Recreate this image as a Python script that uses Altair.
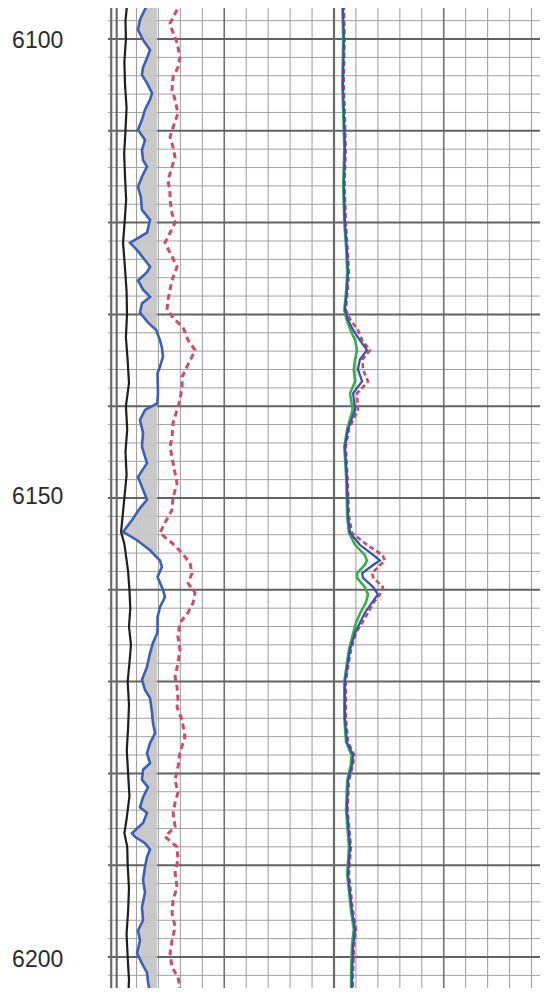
import altair as alt
import numpy as np
import pandas as pd

# ---------------- data (x values in chart-grid divisions: track 1 = 0..10, track 2 = 10..20) ----------------
gr_depth = [6096.3, 6097.9, 6099.0, 6100.1, 6101.2, 6102.1, 6103.1, 6103.9, 6104.8, 6105.9, 6106.6, 6107.7,
            6108.8, 6109.9, 6110.2, 6111.0, 6112.1, 6113.2, 6113.9, 6115.0, 6116.1, 6117.2, 6118.6, 6119.7,
            6121.1, 6122.2, 6123.0, 6124.1, 6124.8, 6125.4, 6126.3, 6127.3, 6128.1, 6128.8, 6129.8, 6130.9,
            6131.7, 6132.8, 6133.6, 6134.6, 6135.7, 6136.4, 6137.5, 6138.6, 6139.7, 6140.4, 6141.5, 6142.9,
            6144.4, 6146.2, 6147.7, 6149.1, 6150.2, 6151.1, 6152.4, 6153.7, 6154.6, 6155.7, 6156.8, 6157.5,
            6158.6, 6160.0, 6160.8, 6161.9, 6163.0, 6164.1, 6164.7, 6165.8, 6166.9, 6168.4, 6169.8, 6170.9,
            6171.8, 6173.4, 6174.5, 6175.6, 6176.7, 6177.8, 6178.9, 6179.6, 6180.7, 6181.5, 6182.6, 6183.7,
            6184.3, 6185.4, 6186.5, 6186.9, 6187.6, 6188.3, 6189.1, 6190.2, 6191.6, 6193.0, 6194.6, 6196.0,
            6197.1, 6198.2, 6199.6, 6200.7, 6201.7, 6202.8, 6203.9, 6204.7]
gr_value = [1.48, 1.16, 1.07, 1.30, 1.62, 1.48, 1.30, 1.25, 1.48, 1.71, 1.62, 1.39,
            1.25, 1.07, 1.16, 1.39, 1.25, 1.30, 1.48, 1.25, 1.07, 1.20, 1.25, 1.62,
            1.48, 0.71, 1.03, 1.39, 1.62, 1.48, 1.07, 1.30, 1.62, 1.25, 1.16, 1.53,
            1.90, 2.07, 2.16, 2.21, 2.07, 1.96, 1.97, 1.98, 1.95, 1.39, 1.16, 1.30,
            1.25, 1.48, 1.07, 1.30, 1.48, 1.16, 0.80, 0.39, 1.03, 1.62, 2.07, 2.16,
            1.96, 2.21, 2.30, 2.07, 1.96, 1.96, 1.95, 1.75, 1.62, 1.48, 1.25, 1.39,
            1.62, 1.71, 1.75, 1.85, 1.62, 1.48, 1.62, 1.30, 1.25, 1.53, 1.30, 1.16,
            1.48, 1.30, 0.80, 0.93, 1.39, 1.62, 1.48, 1.39, 1.30, 1.39, 1.25, 1.30,
            1.07, 1.16, 1.03, 1.25, 1.48, 1.53, 1.62, 1.65]
shale_base = 1.94

res_depth = [6096.8, 6098.3, 6099.0, 6100.4, 6102.0, 6103.1, 6104.1, 6105.6, 6106.6, 6108.1, 6109.6, 6110.7,
             6111.8, 6112.9, 6113.9, 6115.4, 6116.8, 6117.5, 6119.0, 6120.0, 6121.1, 6122.2, 6123.7, 6124.8,
             6126.3, 6127.3, 6128.4, 6129.5, 6130.6, 6131.4, 6132.8, 6133.9, 6134.6, 6135.7, 6136.8, 6137.9,
             6139.3, 6140.4, 6141.8, 6143.4, 6144.4, 6146.2, 6148.4, 6149.9, 6151.3, 6152.7, 6153.8, 6154.9,
             6156.0, 6157.1, 6158.2, 6159.3, 6160.3, 6161.4, 6162.5, 6163.6, 6165.1, 6166.5, 6168.0, 6169.5,
             6170.6, 6171.8, 6172.8, 6174.2, 6176.0, 6177.8, 6179.3, 6180.7, 6182.1, 6183.2, 6184.3, 6185.8,
             6186.9, 6188.0, 6189.4, 6190.8, 6192.4, 6193.8, 6195.2, 6196.7, 6198.2, 6199.6, 6201.1, 6202.2,
             6203.3, 6204.5]
res_value = [2.85, 2.53, 2.62, 2.85, 2.98, 2.89, 2.67, 2.62, 2.76, 2.89, 2.67, 2.53,
             2.67, 2.76, 2.62, 2.44, 2.53, 2.53, 2.62, 2.76, 2.53, 2.30, 2.62, 2.85,
             2.62, 2.53, 2.44, 2.39, 2.76, 3.12, 3.35, 3.67, 3.53, 3.30, 3.08, 3.08,
             2.98, 2.85, 2.67, 2.62, 2.53, 2.67, 2.85, 2.67, 2.62, 2.30, 2.07, 2.62,
             3.08, 3.44, 3.53, 3.35, 3.67, 3.58, 3.35, 2.98, 2.89, 2.98, 2.89, 2.76,
             2.85, 2.89, 2.85, 3.08, 3.21, 2.98, 2.89, 2.76, 2.89, 2.76, 2.67, 2.76,
             2.30, 2.85, 2.89, 2.76, 2.85, 2.67, 2.62, 2.76, 2.62, 2.53, 2.62, 2.89,
             2.98, 2.85]

cal_depth = [6096.3, 6098, 6100, 6102.5, 6105, 6107.5, 6110, 6112.5, 6115, 6117.5, 6120, 6122.2, 6125,
             6127.5, 6130, 6132.5, 6135, 6137.5, 6140, 6142.5, 6145, 6147.5, 6150, 6153.7, 6155, 6158,
             6160, 6162, 6164, 6166, 6168, 6170, 6172.5, 6175, 6177.5, 6180, 6182.5, 6185, 6186.5,
             6188, 6190, 6192.5, 6195, 6197.5, 6200, 6202.5, 6204.7]
cal_value = [0.57, 0.50, 0.52, 0.45, 0.48, 0.55, 0.50, 0.44, 0.48, 0.53, 0.46, 0.39, 0.48,
             0.55, 0.57, 0.52, 0.60, 0.66, 0.52, 0.58, 0.50, 0.55, 0.45, 0.30, 0.45, 0.62,
             0.68, 0.72, 0.66, 0.75, 0.68, 0.60, 0.66, 0.62, 0.56, 0.62, 0.68, 0.55, 0.45,
             0.58, 0.60, 0.66, 0.62, 0.55, 0.60, 0.66, 0.62]

t2_depth = [6096.3, 6100, 6105, 6108, 6112, 6116, 6120, 6123, 6125.4, 6127.3, 6129.5, 6130.6, 6131.7,
            6132.8, 6133.9, 6134.9, 6136.0, 6137.3, 6138.6, 6140.4, 6142.5, 6144.4, 6148, 6152, 6153.8,
            6155.1, 6156.2, 6156.8, 6157.3, 6158.2, 6158.7, 6159.7, 6160.5, 6161.4, 6162.5, 6163.6, 6164.7,
            6166.5, 6167.8, 6170, 6174, 6176.6, 6178, 6179.1, 6180.8, 6184, 6188, 6191, 6195, 6197,
            6198.8, 6202, 6204.7]
t2_blue = [10.41, 10.45, 10.41, 10.45, 10.50, 10.45, 10.50, 10.59, 10.64, 10.59, 10.50, 10.64, 10.87,
           11.18, 11.50, 11.18, 11.09, 11.28, 10.87, 10.96, 10.64, 10.50, 10.59, 10.64, 10.73,
           11.18, 11.78, 12.09, 11.78, 11.28, 11.32, 11.78, 12.00, 11.73, 11.41, 11.18, 10.96,
           10.73, 10.64, 10.50, 10.50, 10.59, 10.87, 10.82, 10.64, 10.59, 10.73, 10.64, 10.82, 10.96,
           10.87, 10.82, 10.82]
t2_red = [10.45, 10.48, 10.44, 10.49, 10.53, 10.48, 10.54, 10.62, 10.68, 10.62, 10.54, 10.75, 11.09,
          11.28, 11.64, 11.30, 11.32, 11.55, 11.05, 11.09, 10.68, 10.54, 10.62, 10.68, 10.82,
          11.50, 12.20, 12.32, 12.10, 11.73, 11.80, 12.23, 12.10, 11.80, 11.55, 11.28, 11.00,
          10.78, 10.68, 10.54, 10.54, 10.64, 10.92, 10.86, 10.68, 10.62, 10.77, 10.68, 10.86, 11.00,
          10.91, 10.86, 10.86]
t2_green = [10.38, 10.42, 10.38, 10.42, 10.47, 10.42, 10.47, 10.56, 10.60, 10.56, 10.47, 10.58, 10.75,
            10.96, 11.05, 10.96, 10.90, 10.96, 10.73, 10.85, 10.60, 10.47, 10.56, 10.60, 10.68,
            10.96, 11.40, 11.50, 11.40, 11.05, 11.05, 11.40, 11.55, 11.45, 11.20, 11.00, 10.88,
            10.68, 10.60, 10.47, 10.47, 10.55, 10.80, 10.76, 10.60, 10.55, 10.68, 10.60, 10.78, 10.90,
            10.82, 10.78, 10.78]

depth_labels = ["6100", "6150", "6200"]
label_depths = [6100.2, 6149.9, 6200.3]

v_thin = [1, 2, 3, 4, 6, 7, 8, 9, 11, 12, 13, 14, 16, 17, 18, 19]
v_mid = [5, 15]
v_thick = [-0.15, 0.1, 10]
h_thin = [d for d in range(6098, 6205, 2) if d % 10 != 0]
h_thick = list(range(6100, 6201, 10))

X_DOMAIN = [-4.852, 19.385]
Y_DOMAIN = [6096.62, 6203.38]
GRID_LEFT = -0.3

# ---------------- frames ----------------
gr_df = pd.DataFrame({"depth": gr_depth, "v": gr_value})
gr_df["fill_left"] = np.minimum(gr_df["v"], shale_base)
gr_df["fill_right"] = shale_base
res_df = pd.DataFrame({"depth": res_depth, "v": res_value})
cal_df = pd.DataFrame({"depth": cal_depth, "v": cal_value})
t2b = pd.DataFrame({"depth": t2_depth, "v": t2_blue})
t2r = pd.DataFrame({"depth": t2_depth, "v": t2_red})
t2g = pd.DataFrame({"depth": t2_depth, "v": t2_green})
lab_df = pd.DataFrame({"depth": label_depths, "label": depth_labels})

xs = alt.Scale(domain=X_DOMAIN, nice=False, zero=False)
ys = alt.Scale(domain=Y_DOMAIN, nice=False, zero=False, reverse=True)


def X(field):
    return alt.X(field, type="quantitative", scale=xs, axis=None)


def Y():
    return alt.Y("depth:Q", scale=ys, axis=None)


def vrules(vals, color, width):
    return alt.Chart(pd.DataFrame({"v": vals})).mark_rule(color=color, strokeWidth=width).encode(
        x=X("v"))


def hrules(vals, color, width):
    return alt.Chart(pd.DataFrame({"depth": vals})).mark_rule(color=color, strokeWidth=width).encode(
        y=Y(), x=alt.XDatum(GRID_LEFT, scale=xs, axis=None), x2=alt.X2Datum(X_DOMAIN[1]))


def curve(df, color, width, dash=None):
    kw = dict(color=color, strokeWidth=width, interpolate="linear", clip=True)
    if dash:
        kw["strokeDash"] = dash
    return alt.Chart(df).mark_line(**kw).encode(x=X("v"), y=Y(), order="depth:Q")


grid = [
    hrules(h_thin, "#a0a0a0", 1),
    vrules(v_thin, "#9a9a9a", 1),
    vrules(v_mid, "#707070", 1.6),
    hrules(h_thick, "#626262", 2),
    vrules(v_thick, "#6a6a6a", 2.2),
]

shade = alt.Chart(gr_df).mark_area(orient="horizontal", color="#c6c6c6", opacity=0.95,
                                   interpolate="linear", clip=True).encode(
    y=Y(), x=X("fill_left"), x2="fill_right:Q")

labels = alt.Chart(lab_df).mark_text(font="Liberation Sans", fontSize=23, color="#2a2a2a",
                                     align="center", baseline="middle").encode(
    y=Y(), x=alt.XDatum(-3.5, scale=xs, axis=None), text="label:N")

chart = alt.layer(
    *grid,
    shade,
    curve(cal_df, "#1e1e1e", 2.2),
    curve(gr_df, "#3d5fb5", 2.6),
    curve(res_df, "#cf4d68", 3, [6, 4]),
    curve(t2g, "#3aae4c", 2.6),
    curve(t2r, "#c84a66", 2.6, [5, 3]),
    curve(t2b, "#3550b0", 2.2),
    labels,
).properties(
    width=532, height=980, padding=0,
    autosize=alt.AutoSizeParams(type="none"),
    background="white",
).configure_view(stroke=None)

chart.save("out.html", embed_options={"renderer": "svg", "actions": False})
